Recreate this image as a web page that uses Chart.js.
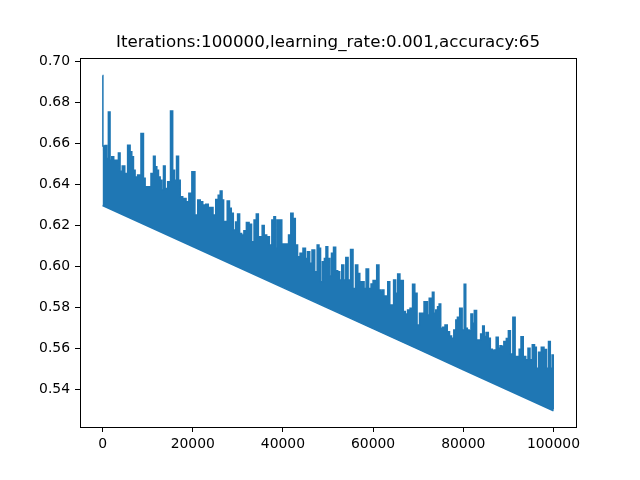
<!DOCTYPE html>
<html><head><meta charset="utf-8">
<script src="https://cdn.jsdelivr.net/npm/chart.js@4/dist/chart.umd.min.js"></script>
<style>html,body{margin:0;padding:0;background:#fff}canvas{display:block}</style>
</head><body>
<canvas id="c" width="640" height="480"></canvas>
<script>
const titleText = "Iterations:100000,learning_rate:0.001,accuracy:65";
const upperIter = [0,150,370,740,1100,1480,1850,2220,2740,3330,3700,4070,4670,5190,5930,6300,6670,7040,7400,8150,8890,9260,9630,10370,11110,11480,11850,12220,12590,12960,13330,13700,14070,14810,15330,15780,16150,16670,17040,17410,18150,18890,19400,20220,20740,21480,21850,22590,23200,23700,24200,24800,25400,25900,26300,26700,27000,27400,27900,28400,28700,29300,29700,30200,30600,31100,31600,32200,32800,33300,33900,34300,34800,35200,35600,36100,36700,37300,37800,38200,38500,38900,39500,40000,40400,41000,41500,42000,42500,43000,43500,44100,44800,45200,45700,46200,46700,47400,47800,48200,48500,49000,49400,49700,50200,50600,50950,51500,51900,52400,52800,53300,53700,54200,54700,55300,55800,56400,56800,57300,57800,58200,58700,59300,59800,60200,60500,61100,61500,61900,62200,62600,63000,63500,63900,64300,64800,65200,65700,66200,66500,66900,67400,67900,68500,69000,69500,70000,70600,71100,71500,71900,72200,72700,73000,73300,73700,74100,74500,74800,75200,75700,76200,76700,77200,77600,78200,78500,78900,79500,80000,80400,80700,81100,81500,81900,82200,82700,83200,83600,84100,84500,84800,85300,85800,86200,86700,87000,87600,87900,88400,88700,89300,89800,90200,90700,91300,91700,92200,92600,93000,93600,94100,94600,95000,95600,96000,96400,97000,97600,98200,98700,99100,99500,99900,100000];
const upperLoss = [0.6931,0.6587,0.6567,0.659,0.6527,0.6753,0.6518,0.6535,0.6518,0.6518,0.6554,0.6465,0.649,0.6454,0.6591,0.6559,0.6535,0.647,0.6437,0.6446,0.6648,0.643,0.6389,0.6389,0.6454,0.6538,0.6486,0.647,0.6437,0.6421,0.6373,0.649,0.6381,0.6413,0.6758,0.647,0.6421,0.6538,0.6421,0.634,0.6332,0.6316,0.6357,0.6462,0.6251,0.6324,0.6316,0.63,0.6304,0.6288,0.6288,0.6251,0.6327,0.6348,0.6369,0.6324,0.6218,0.622,0.632,0.6284,0.626,0.6178,0.6218,0.6256,0.6162,0.6154,0.6175,0.6215,0.6207,0.6121,0.6227,0.6256,0.6145,0.6145,0.62,0.6154,0.6145,0.6105,0.6227,0.6243,0.6089,0.6227,0.6227,0.611,0.611,0.611,0.6154,0.626,0.6235,0.6105,0.6048,0.6065,0.6089,0.604,0.6072,0.6016,0.6081,0.5975,0.6105,0.6089,0.5927,0.6024,0.604,0.6097,0.604,0.5954,0.6065,0.6094,0.598,0.5975,0.5935,0.6008,0.5935,0.6045,0.5935,0.6084,0.5894,0.6008,0.5967,0.5927,0.5927,0.5894,0.5988,0.5894,0.5915,0.5932,0.5932,0.6008,0.5886,0.5878,0.5886,0.5857,0.5857,0.5927,0.5813,0.5813,0.5935,0.587,0.5964,0.5932,0.5932,0.5781,0.5769,0.5789,0.5797,0.5914,0.587,0.5716,0.5773,0.5773,0.5829,0.5829,0.5765,0.5846,0.584,0.5875,0.5773,0.5789,0.5805,0.5818,0.57,0.5705,0.5716,0.5683,0.5662,0.5651,0.5692,0.574,0.5753,0.5797,0.5692,0.5914,0.57,0.5692,0.5688,0.5769,0.5724,0.5786,0.5643,0.5643,0.5672,0.5711,0.566,0.5679,0.5651,0.5598,0.5591,0.5594,0.5656,0.5603,0.5615,0.5611,0.5635,0.565,0.5688,0.5575,0.5753,0.5562,0.5562,0.5598,0.5659,0.5562,0.5546,0.5603,0.5546,0.5619,0.5608,0.5505,0.5583,0.5607,0.5597,0.5505,0.5635,0.5505,0.557,0.5305];
const lowerIter = [0,10000,20000,30000,40000,50000,60000,70000,80000,90000,100000];
const lowerLoss = [0.6298,0.6198,0.6098,0.5998,0.5898,0.5798,0.5698,0.5598,0.5498,0.5398,0.5298];
const xTicks = [0,20000,40000,60000,80000,100000];
const yTicks = [0.54,0.56,0.58,0.60,0.62,0.64,0.66,0.68,0.70];

const blue = '#1f77b4';
const upperPts = upperIter.map((x, i) => ({x: x, y: upperLoss[i]}));
const lowerPts = lowerIter.map((x, i) => ({x: x, y: lowerLoss[i]}));

Chart.defaults.font.family = "'DejaVu Sans', sans-serif";
Chart.defaults.color = '#000';

const framePlugin = {
  id: 'frame',
  afterDraw(chart) {
    const a = chart.chartArea, ctx = chart.ctx;
    ctx.save();
    ctx.strokeStyle = '#000';
    ctx.lineWidth = 1;
    ctx.strokeRect(Math.round(a.left) + 0.5, Math.round(a.top) + 0.5, Math.round(a.right - a.left), Math.round(a.bottom - a.top));
    ctx.restore();
  }
};

new Chart(document.getElementById('c'), {
  type: 'line',
  data: {
    datasets: [
      {data: upperPts, borderColor: blue, backgroundColor: blue, borderWidth: 1.5, pointRadius: 0, stepped: 'middle', fill: '+1'},
      {data: lowerPts, borderColor: blue, backgroundColor: blue, borderWidth: 1.5, pointRadius: 0, tension: 0, fill: false}
    ]
  },
  options: {
    responsive: false,
    devicePixelRatio: 1,
    animation: false,
    events: [],
    layout: {padding: {left: 0, right: 64, top: 0, bottom: 0}},
    plugins: {
      legend: {display: false},
      tooltip: {enabled: false},
      title: {
        display: true, text: titleText, fullSize: false,
        font: {size: 16.7, weight: 'normal'}, color: '#000',
        padding: {top: 33, bottom: 5}
      }
    },
    scales: {
      x: {
        type: 'linear', min: -5000, max: 105000,
        afterFit(s) { s.height = 53; },
        afterBuildTicks(s) { s.ticks = xTicks.map(v => ({value: v})); },
        ticks: {font: {size: 13.9}, padding: 4, maxRotation: 0, autoSkip: false, callback: v => String(v)},
        grid: {drawOnChartArea: false, drawTicks: true, tickLength: 5, tickColor: '#000', lineWidth: 1},
        border: {display: true, color: '#000', width: 1}
      },
      y: {
        type: 'linear', min: 0.5219, max: 0.7016,
        afterFit(s) { s.width = 80; },
        afterBuildTicks(s) { s.ticks = yTicks.map(v => ({value: v})); },
        ticks: {font: {size: 13.9}, padding: 5, autoSkip: false, callback: v => v.toFixed(2)},
        grid: {drawOnChartArea: false, drawTicks: true, tickLength: 5, tickColor: '#000', lineWidth: 1},
        border: {display: true, color: '#000', width: 1}
      }
    }
  },
  plugins: [framePlugin]
});
</script>
</body></html>
